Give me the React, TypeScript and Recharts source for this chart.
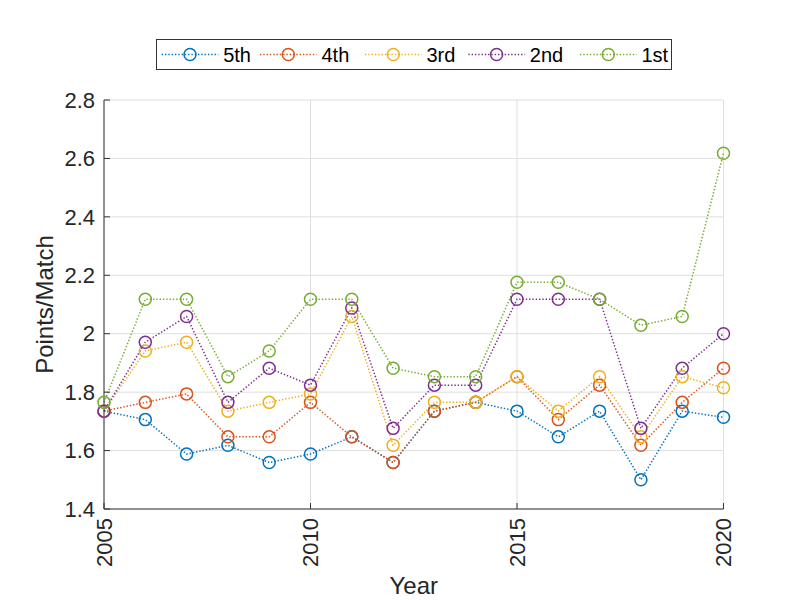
import React from 'react';
import { LineChart, Line, XAxis, YAxis, CartesianGrid, Legend } from 'recharts';

const years = [2005, 2006, 2007, 2008, 2009, 2010, 2011, 2012, 2013, 2014, 2015, 2016, 2017, 2018, 2019, 2020];
const fifth = [1.735, 1.706, 1.588, 1.618, 1.559, 1.588, 1.647, 1.559, 1.735, 1.765, 1.735, 1.647, 1.735, 1.5, 1.735, 1.714];
const fourth = [1.735, 1.765, 1.794, 1.647, 1.647, 1.765, 1.647, 1.559, 1.735, 1.765, 1.853, 1.706, 1.824, 1.618, 1.765, 1.882];
const third = [1.735, 1.941, 1.971, 1.735, 1.765, 1.794, 2.059, 1.618, 1.765, 1.765, 1.853, 1.735, 1.853, 1.647, 1.853, 1.815];
const second = [1.735, 1.971, 2.059, 1.765, 1.882, 1.824, 2.088, 1.676, 1.824, 1.824, 2.118, 2.118, 2.118, 1.676, 1.882, 2.0];
const first = [1.765, 2.118, 2.118, 1.853, 1.941, 2.118, 2.118, 1.882, 1.853, 1.853, 2.176, 2.176, 2.118, 2.029, 2.059, 2.618];

const xTicks = [2005, 2010, 2015, 2020];
const yTicks = [1.4, 1.6, 1.8, 2.0, 2.2, 2.4, 2.6, 2.8];

const seriesNames = ['5th', '4th', '3rd', '2nd', '1st'];
const seriesValues = [fifth, fourth, third, second, first];
const seriesColors = ['#0072BD', '#D95319', '#EDB120', '#7E2F8E', '#77AC30'];
const seriesKeys = ['s5', 's4', 's3', 's2', 's1'];

const data = years.map((yr, i) => {
  const row: Record<string, number> = { year: yr };
  seriesKeys.forEach((k, j) => {
    row[k] = seriesValues[j][i];
  });
  return row;
});

const FONT = '"Liberation Sans", Arial, Helvetica, sans-serif';
const TEXT = '#262626';
const AXIS = '#333333';
const DASH = '1.4 1.9';

const fmtY = (v: number) => {
  const s = v.toFixed(1);
  return s.endsWith('.0') ? s.slice(0, -2) : s;
};

const XTick = (props: any) => {
  const { x, y, payload } = props;
  return (
    <g>
      <line x1={x} y1={y} x2={x} y2={y - 6} stroke={AXIS} strokeWidth={1} />
      <text
        x={x}
        y={y + 9}
        transform={`rotate(-90 ${x} ${y + 9})`}
        textAnchor="end"
        dy="0.35em"
        fontSize={22}
        fontFamily={FONT}
        fill={TEXT}
      >
        {payload.value}
      </text>
    </g>
  );
};

const YTick = (props: any) => {
  const { x, y, payload } = props;
  return (
    <g>
      <line x1={x} y1={y} x2={x + 6} y2={y} stroke={AXIS} strokeWidth={1} />
      <text x={x - 9} y={y} dy="0.35em" textAnchor="end" fontSize={22} fontFamily={FONT} fill={TEXT}>
        {fmtY(payload.value)}
      </text>
    </g>
  );
};

const makeDot = (color: string) => (props: any) => {
  const { cx, cy, index } = props;
  if (cx == null || cy == null) return <g key={index} />;
  return <circle key={index} cx={cx} cy={cy} r={6} fill="none" stroke={color} strokeWidth={1.5} />;
};

const legendStarts = [5.7, 104, 209, 312.3, 424];
const sampleLen = 56.6;

const LegendContent = () => (
  <svg width={516} height={31} style={{ display: 'block' }}>
    <rect x={0.5} y={0.5} width={515} height={30} fill="#ffffff" stroke={AXIS} strokeWidth={1} />
    {seriesNames.map((name, i) => {
      const sx = legendStarts[i];
      return (
        <g key={name}>
          <line x1={sx} y1={15.5} x2={sx + sampleLen} y2={15.5} stroke={seriesColors[i]} strokeWidth={1.5} strokeDasharray={DASH} />
          <circle cx={sx + sampleLen / 2} cy={15.5} r={6} fill="none" stroke={seriesColors[i]} strokeWidth={1.5} />
          <text x={sx + 61.5} y={15.5} dy="0.35em" fontSize={20} fontFamily={FONT} fill="#000000">
            {name}
          </text>
        </g>
      );
    })}
  </svg>
);

const YLabel = (props: any) => {
  const cx = 53;
  const cy = 304.5;
  return (
    <text x={cx} y={cy} transform={`rotate(-90 ${cx} ${cy})`} textAnchor="middle" fontSize={24} fontFamily={FONT} fill={TEXT}>
      Points/Match
    </text>
  );
};

const XLabel = (props: any) => {
  return (
    <text x={413.8} y={594.3} textAnchor="middle" fontSize={24} fontFamily={FONT} fill={TEXT}>
      Year
    </text>
  );
};

export default function App() {
  return (
    <div style={{ position: 'absolute', left: 0, top: 0, width: 800, height: 600, background: '#ffffff' }}>
      <LineChart width={800} height={600} data={data} margin={{ top: 100, right: 76.5, bottom: 0, left: 44 }}>
        <CartesianGrid stroke="#dfdfdf" strokeWidth={1} horizontalValues={yTicks} verticalValues={xTicks} />
        <XAxis
          dataKey="year"
          type="number"
          domain={[2005, 2020]}
          ticks={xTicks}
          height={91}
          tickSize={0}
          tickMargin={0}
          tickLine={false}
          axisLine={{ stroke: AXIS, strokeWidth: 1 }}
          tick={<XTick />}
          interval={0}
          label={<XLabel />}
        />
        <YAxis
          type="number"
          domain={[1.4, 2.8]}
          ticks={yTicks}
          width={60}
          tickSize={0}
          tickMargin={0}
          tickLine={false}
          axisLine={{ stroke: AXIS, strokeWidth: 1 }}
          tick={<YTick />}
          interval={0}
          allowDataOverflow
          label={<YLabel />}
        />
        <Legend
          layout="horizontal"
          verticalAlign="middle"
          align="center"
          wrapperStyle={{ position: 'absolute', top: 39, left: 156, width: 516, height: 31 }}
          content={<LegendContent />}
        />
        {seriesKeys.map((k, i) => (
          <Line
            key={k}
            type="linear"
            dataKey={k}
            name={seriesNames[i]}
            stroke={seriesColors[i]}
            strokeWidth={1.5}
            strokeDasharray={DASH}
            dot={makeDot(seriesColors[i])}
            activeDot={false}
            isAnimationActive={false}
          />
        ))}
      </LineChart>
    </div>
  );
}
